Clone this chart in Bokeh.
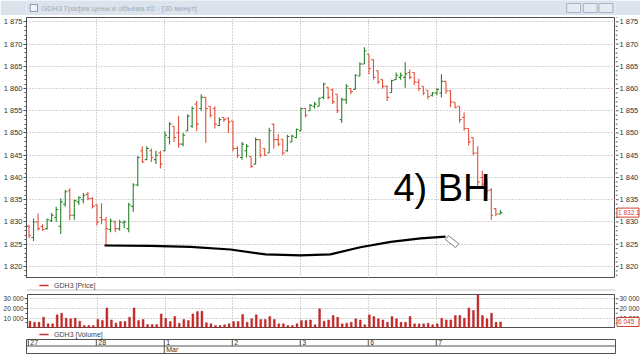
import numpy as np
from bokeh.plotting import figure
from bokeh.layouts import column, row
from bokeh.models import (Range1d, SingleIntervalTicker, FixedTicker, Grid,
                          CustomJSTickFormatter, ColumnDataSource)
from bokeh.embed import file_html
from bokeh.resources import INLINE
from bokeh.core.properties import value

# ---------------- data ----------------
title_text = "GDH3 График цены и объема #2 - [30 минут]"
days = ["27", "28", "1", "2", "3", "6", "7"]
month_label = "Mar"
month_day = "1"
bars_per_day = 15
price_ticks = [1820, 1825, 1830, 1835, 1840, 1845, 1850, 1855, 1860, 1865, 1870, 1875]
volume_ticks = [10000, 20000, 30000]

opens = [1829, 1826.5, 1830, 1829, 1828.5, 1830.3, 1831, 1829, 1834, 1837, 1831.5, 1834.5, 1835, 1836.2, 1835.3,
         1833.8, 1831, 1830.5, 1828.3, 1830, 1828.5, 1829.8, 1828.5, 1833.5, 1838.3, 1846, 1844, 1846, 1844, 1845.5,
         1846, 1849, 1851.5, 1850, 1847.5, 1850.5, 1851.5, 1856.5, 1855.5, 1858, 1856, 1855.5, 1851.7, 1853.5, 1853.3,
         1852.7, 1846.5, 1844.5, 1846, 1844.7, 1843, 1848.5, 1846.5, 1845.5, 1852, 1848.5, 1848.6, 1846, 1848, 1849,
         1850.5, 1855.5, 1855, 1856, 1856, 1858, 1860.3, 1859.7, 1858.7, 1853, 1857.5, 1860, 1859.8, 1862.8, 1865.5,
         1867.7, 1866.5, 1864, 1862, 1860.5, 1859.1, 1862, 1862.5, 1862.5, 1863.6, 1863.6, 1861.4, 1860.5, 1859.6, 1858.5,
         1859, 1859, 1861.6, 1859.5, 1856.9, 1856, 1853.5, 1851, 1849, 1845.5, 1840, 1839, 1837.2, 1833, 1831.8]
highs = [1829.3, 1830.8, 1831.9, 1829.5, 1830.8, 1832, 1833.4, 1835.3, 1837.2, 1837.6, 1835, 1835.8, 1836.5, 1836.8, 1835.5,
         1834, 1834.2, 1831.1, 1830.8, 1830.3, 1830.5, 1830.4, 1834.3, 1838.7, 1844.8, 1847, 1847, 1846.5, 1846, 1846,
         1850.4, 1852.4, 1851.5, 1853.8, 1850, 1854.2, 1856, 1857.2, 1858.7, 1858, 1856, 1856, 1853.5, 1853.6, 1853.5,
         1852.7, 1847, 1848, 1847.5, 1844.7, 1849, 1848.5, 1846.6, 1851.2, 1852, 1849.7, 1848.6, 1849.6, 1849.6, 1851,
         1855.7, 1855.5, 1856.5, 1857, 1858, 1861.3, 1860.3, 1860, 1858.7, 1858, 1861, 1860, 1863.2, 1865.9, 1869.3,
         1867.7, 1866.5, 1864, 1862, 1860.7, 1862, 1863.6, 1863.6, 1865.9, 1864.3, 1863.6, 1862.2, 1860.5, 1859.6, 1859.2,
         1860, 1863.2, 1861.6, 1859.6, 1856.9, 1856, 1854.6, 1851, 1849, 1847, 1841.5, 1839.5, 1837.6, 1833, 1832.7]
lows = [1826.4, 1825.7, 1828.1, 1828, 1828.3, 1830, 1830, 1827.3, 1833.4, 1830.4, 1830.5, 1833.8, 1834.2, 1834.9, 1833,
        1829.2, 1829.5, 1824.6, 1827.7, 1827.7, 1828, 1828.6, 1827.7, 1832.3, 1838, 1843.3, 1844, 1843.5, 1843, 1842,
        1845.9, 1847.4, 1848, 1846.7, 1847, 1850.4, 1851.2, 1850.4, 1855, 1847.8, 1853.5, 1851, 1851.5, 1852.5, 1850,
        1845.9, 1844.4, 1844, 1844.5, 1842.1, 1843, 1844.5, 1844.8, 1845.5, 1846.5, 1847, 1845, 1845.8, 1848, 1848.8,
        1850.4, 1853.5, 1855, 1855.5, 1856, 1857.6, 1857.6, 1856.5, 1854.5, 1852.3, 1856.6, 1858.7, 1859.8, 1862.8, 1865.5,
        1863.2, 1862, 1861, 1860, 1857.2, 1859.1, 1862, 1862, 1860.2, 1862.1, 1860.8, 1859.4, 1858.5, 1857.6, 1858.2,
        1858.5, 1858, 1858.8, 1855.8, 1855.5, 1852.3, 1850.5, 1847.2, 1845, 1837.7, 1837.5, 1836.2, 1830.5, 1831.3, 1831.7]
closes = [1827, 1830, 1828.5, 1828.3, 1830.5, 1831.5, 1832.8, 1834.5, 1836.8, 1831.5, 1834.8, 1835.5, 1836, 1835.2, 1833.5,
          1830, 1830.5, 1828.5, 1830.2, 1828.5, 1830, 1830, 1833.8, 1838.3, 1844.5, 1843.5, 1846.5, 1844.5, 1845, 1843,
          1849.5, 1852, 1849, 1847.5, 1849.5, 1853.8, 1855.5, 1852, 1858, 1855.5, 1854, 1852, 1853, 1853, 1852.5,
          1846.5, 1845, 1847.5, 1847, 1842.5, 1848.5, 1845, 1845, 1850.5, 1848.5, 1847.5, 1845.5, 1849.2, 1849.3, 1850.8,
          1855.5, 1854, 1856.2, 1856.5, 1857.8, 1861, 1858, 1857, 1855, 1857.5, 1860.5, 1859.3, 1863, 1865.5, 1868.5,
          1864.5, 1862.5, 1861.5, 1860.5, 1858, 1861.8, 1863, 1863, 1863.3, 1862.5, 1861.5, 1860, 1859, 1858.2, 1859,
          1859.8, 1861.6, 1859.5, 1857, 1855.8, 1853, 1851, 1848, 1845.5, 1839, 1838.5, 1837, 1831.5, 1831.8, 1832.1]
volumes = [6900, 5800, 5800, 11000, 4100, 4100, 13400, 15100, 10000, 9300, 10000, 6900, 2400, 2400, 2400,
           8600, 7600, 20600, 8200, 4800, 6500, 6500, 11000, 20600, 7600, 8600, 3400, 3400, 3400, 14400,
           10000, 6500, 11700, 4800, 8600, 7600, 14400, 16800, 17200, 5200, 4100, 2400, 2400, 3100, 4100,
           6500, 6500, 13700, 5800, 9300, 13400, 8600, 8600, 11700, 8600, 4100, 4100, 2400, 2400, 4100,
           7600, 7600, 8200, 3100, 19600, 6900, 8200, 12700, 11000, 4100, 4800, 5800, 9300, 8200, 3100,
           13400, 11700, 9300, 8200, 5800, 11700, 9300, 5800, 5800, 11700, 4100, 4100, 4100, 4800, 3100,
           4100, 10000, 8200, 8200, 12700, 12700, 10000, 20600, 18000, 34000, 12700, 9300, 15100, 5800, 6045]

# hand-drawn annotation (bar index, price)
sketch_x = [16.66, 26.8, 35.6, 44.45, 52.2, 59.9, 66.5, 73.1, 79.8, 86.4, 91.9]
sketch_y = [1824.7, 1824.6, 1824.4, 1823.8, 1822.7, 1822.5, 1822.7, 1824.3, 1825.5, 1826.3, 1826.7]
note_text = "4) ВН"
note_x, note_y = 80.4, 1837.6

# ---------------- derived ----------------
n = len(closes)
idx = np.arange(n)
GREEN = "#2a832a"
RED = "#e0503c"
BOXRED = "#d04030"
colors = [GREEN if c >= o else RED for o, c in zip(opens, closes)]
src = ColumnDataSource(dict(x=idx, xl=idx - 0.45, xr=idx + 0.45, o=opens, h=highs, l=lows, c=closes, col=colors))
day_starts = [d * bars_per_day - 0.15 for d in range(len(days))]
day_bounds = day_starts[1:]
month_x = day_starts[days.index(month_day)]

W = 640
RW = 25            # right scale strip width
FONT = "Liberation Sans"
AX = "#505050"
GRID = "#a8a8a8"
xr = Range1d(-0.55, 129.4)


def fmt_num(v, dec=0):
    s = f"{v:,.{dec}f}"
    return s.replace(",", " ")


fmt_code = "return Math.round(tick).toString().replace(/\\B(?=(\\d{3})+(?!\\d))/g, ' ');"


def style_axis(ax, size):
    ax.axis_line_color = AX
    ax.major_tick_line_color = AX
    ax.minor_tick_line_color = AX
    ax.major_tick_out = 3
    ax.major_tick_in = 0
    ax.minor_tick_out = 2
    ax.minor_tick_in = 0
    ax.major_label_standoff = 1
    ax.major_label_text_font = FONT
    ax.major_label_text_font_size = size
    ax.major_label_text_color = "#333333"


def pixel_fig(h, bg="white", w=W, y_range=None, top=0):
    f = figure(width=w, height=h, x_range=Range1d(0, w), y_range=y_range or Range1d(0, h),
               toolbar_location=None, output_backend="svg",
               x_axis_location=None, y_axis_location=None, min_border=0, min_border_top=top)
    f.outline_line_color = None
    f.background_fill_color = bg
    f.border_fill_color = bg
    for g in f.grid:
        g.visible = False
    return f


def right_scale(h, yrng, ticks, minor, size, last_val, last_txt, top=0):
    """Right-hand price scale strip sharing the panel's y range, with the last-value box."""
    s = pixel_fig(h, w=RW, y_range=yrng, top=top)
    s.segment(x0=[0] * len(minor), y0=minor, x1=[2] * len(minor), y1=minor, line_color=AX, line_width=1)
    s.segment(x0=[0] * len(ticks), y0=ticks, x1=[3] * len(ticks), y1=ticks, line_color=AX, line_width=1)
    s.text(x=[4] * len(ticks), y=ticks, text=[fmt_num(t) for t in ticks], text_font=value(FONT),
           text_font_size=size, text_color="#333333", text_baseline="middle", text_align="left")
    s.rect(x=[12.5], y=[last_val], width=22, height=9, height_units="screen",
           fill_color="white", line_color=BOXRED, line_width=1)
    s.text(x=[2.5], y=[last_val], text=[last_txt], text_font=value(FONT), text_font_size="6.5px",
           text_color=BOXRED, text_baseline="middle", text_align="left")
    return s


# ---------------- title bar ----------------
fa = pixel_fig(15, "#dbe3ec")
fa.quad(left=[4], right=[12], bottom=[4], top=[11], fill_color="#eef2f6", line_color="#8a9aaa")
fa.text(x=[16], y=[7.5], text=[title_text], text_font=value(FONT), text_font_size="7.5px",
        text_color="#a3aebb", text_baseline="middle")
fa.quad(left=[587, 605, 622], right=[602, 620, 637], bottom=[3, 3, 3], top=[12, 12, 12],
        fill_color="#e6ecf2", line_color="#a8b6c4")

# ---------------- price panel ----------------
py = Range1d(1817.28, 1875.97)
pb = figure(width=W - RW, height=263, x_range=xr, y_range=py,
            toolbar_location=None, output_backend="svg", x_axis_location=None, y_axis_location="left",
            min_border_left=26, min_border_right=0, min_border_top=2, min_border_bottom=0)
pb.outline_line_color = AX
pticker = SingleIntervalTicker(interval=5, num_minor_ticks=5)
pb.yaxis.ticker = pticker
pb.yaxis.formatter = CustomJSTickFormatter(code=fmt_code)
style_axis(pb.yaxis[0], "7.5px")
for g in pb.xgrid:
    g.visible = False
pb.ygrid.grid_line_color = GRID
pb.ygrid.grid_line_dash = "1 2"
pb.add_layout(Grid(dimension=0, ticker=FixedTicker(ticks=day_bounds), grid_line_color=GRID,
                   grid_line_dash="1 2"), "center")

pb.segment(x0="x", y0="l", x1="x", y1="h", color="col", source=src, line_width=1.1)
pb.segment(x0="xl", y0="o", x1="x", y1="o", color="col", source=src, line_width=1.1)
pb.segment(x0="x", y0="c", x1="xr", y1="c", color="col", source=src, line_width=1.1)

pb.line(sketch_x, sketch_y, line_color="black", line_width=2.2)
pb.rect(x=[sketch_x[-1] + 1.43], y=[sketch_y[-1] - 1.13], width=13, height=5,
        width_units="screen", height_units="screen", angle=-0.66,
        fill_color="white", line_color="#808080")
pb.text(x=[note_x], y=[note_y], text=[note_text], text_font=value("Liberation Sans"),
        text_font_size="38px", text_color="black", text_baseline="middle")

p_minor = [t + k for t in range(price_ticks[0] - 5, price_ticks[-1] + 5, 5) for k in range(1, 5)]
ps = right_scale(263, py, price_ticks, p_minor, "7.5px", closes[-1], fmt_num(closes[-1], 1), top=2)

# ---------------- price legend ----------------
fc = pixel_fig(16)
fc.segment(x0=[0], y0=[4.5], x1=[W], y1=[4.5], line_color="#c8c8c8", line_width=1)
fc.segment(x0=[14], y0=[9], x1=[24], y1=[9], line_color="#d03030", line_width=1.5)
fc.text(x=[30], y=[9], text=["GDH3 [Price]"], text_font=value(FONT), text_font_size="7px",
        text_color="#444444", text_baseline="middle")

# ---------------- volume panel ----------------
vy = Range1d(-700, 34450)
pd_ = figure(width=W - RW, height=34, x_range=xr, y_range=vy,
             toolbar_location=None, output_backend="svg", x_axis_location=None, y_axis_location="left",
             min_border_left=26, min_border_right=0, min_border_top=0, min_border_bottom=0)
pd_.outline_line_color = AX
v_minor = [5000, 15000, 25000]
pd_.yaxis.ticker = FixedTicker(ticks=volume_ticks, minor_ticks=v_minor)
pd_.yaxis.formatter = CustomJSTickFormatter(code=fmt_code)
style_axis(pd_.yaxis[0], "6.5px")
for g in pd_.xgrid:
    g.visible = False
pd_.ygrid.grid_line_color = GRID
pd_.ygrid.grid_line_dash = "1 2"
pd_.add_layout(Grid(dimension=0, ticker=FixedTicker(ticks=day_bounds), grid_line_color=GRID,
                    grid_line_dash="1 2"), "center")
pd_.vbar(x=idx, top=volumes, bottom=0, width=0.42, fill_color="#d02828", line_color="#a01818", line_width=0.4)
vs = right_scale(34, vy, volume_ticks, v_minor, "6.5px", volumes[-1], fmt_num(volumes[-1]))

# ---------------- volume legend ----------------
fe = pixel_fig(11)
fe.segment(x0=[14], y0=[6], x1=[24], y1=[6], line_color="#d03030", line_width=1.5)
fe.text(x=[30], y=[6], text=["GDH3 [Volume]"], text_font=value(FONT), text_font_size="7px",
        text_color="#444444", text_baseline="middle")

# ---------------- date strip ----------------
pf = figure(width=W, height=21, x_range=xr, y_range=Range1d(0, 14),
            toolbar_location=None, output_backend="svg", x_axis_location=None, y_axis_location=None,
            min_border_left=26, min_border_right=RW, min_border_top=0, min_border_bottom=7)
pf.outline_line_color = AX
for g in pf.grid:
    g.visible = False
pf.segment(x0=[xr.start], y0=[7.5], x1=[xr.end], y1=[7.5], line_color=AX, line_width=1)
pf.segment(x0=day_starts, y0=[7.5] * len(days), x1=day_starts, y1=[14] * len(days), line_color=AX, line_width=1)
pf.text(x=day_starts, y=[10.8] * len(days), text=days, x_offset=2, text_font=value(FONT),
        text_font_size="7px", text_color="#333333", text_baseline="middle")
pf.segment(x0=[month_x], y0=[0], x1=[month_x], y1=[7.5], line_color=AX, line_width=1)
pf.text(x=[month_x], y=[3.6], text=[month_label], x_offset=2, text_font=value(FONT),
        text_font_size="7px", text_color="#333333", text_baseline="middle")

layout = column(fa, row(pb, ps, spacing=0), fc, row(pd_, vs, spacing=0), fe, pf, spacing=0)
open("out.html", "w").write(file_html(layout, INLINE))
